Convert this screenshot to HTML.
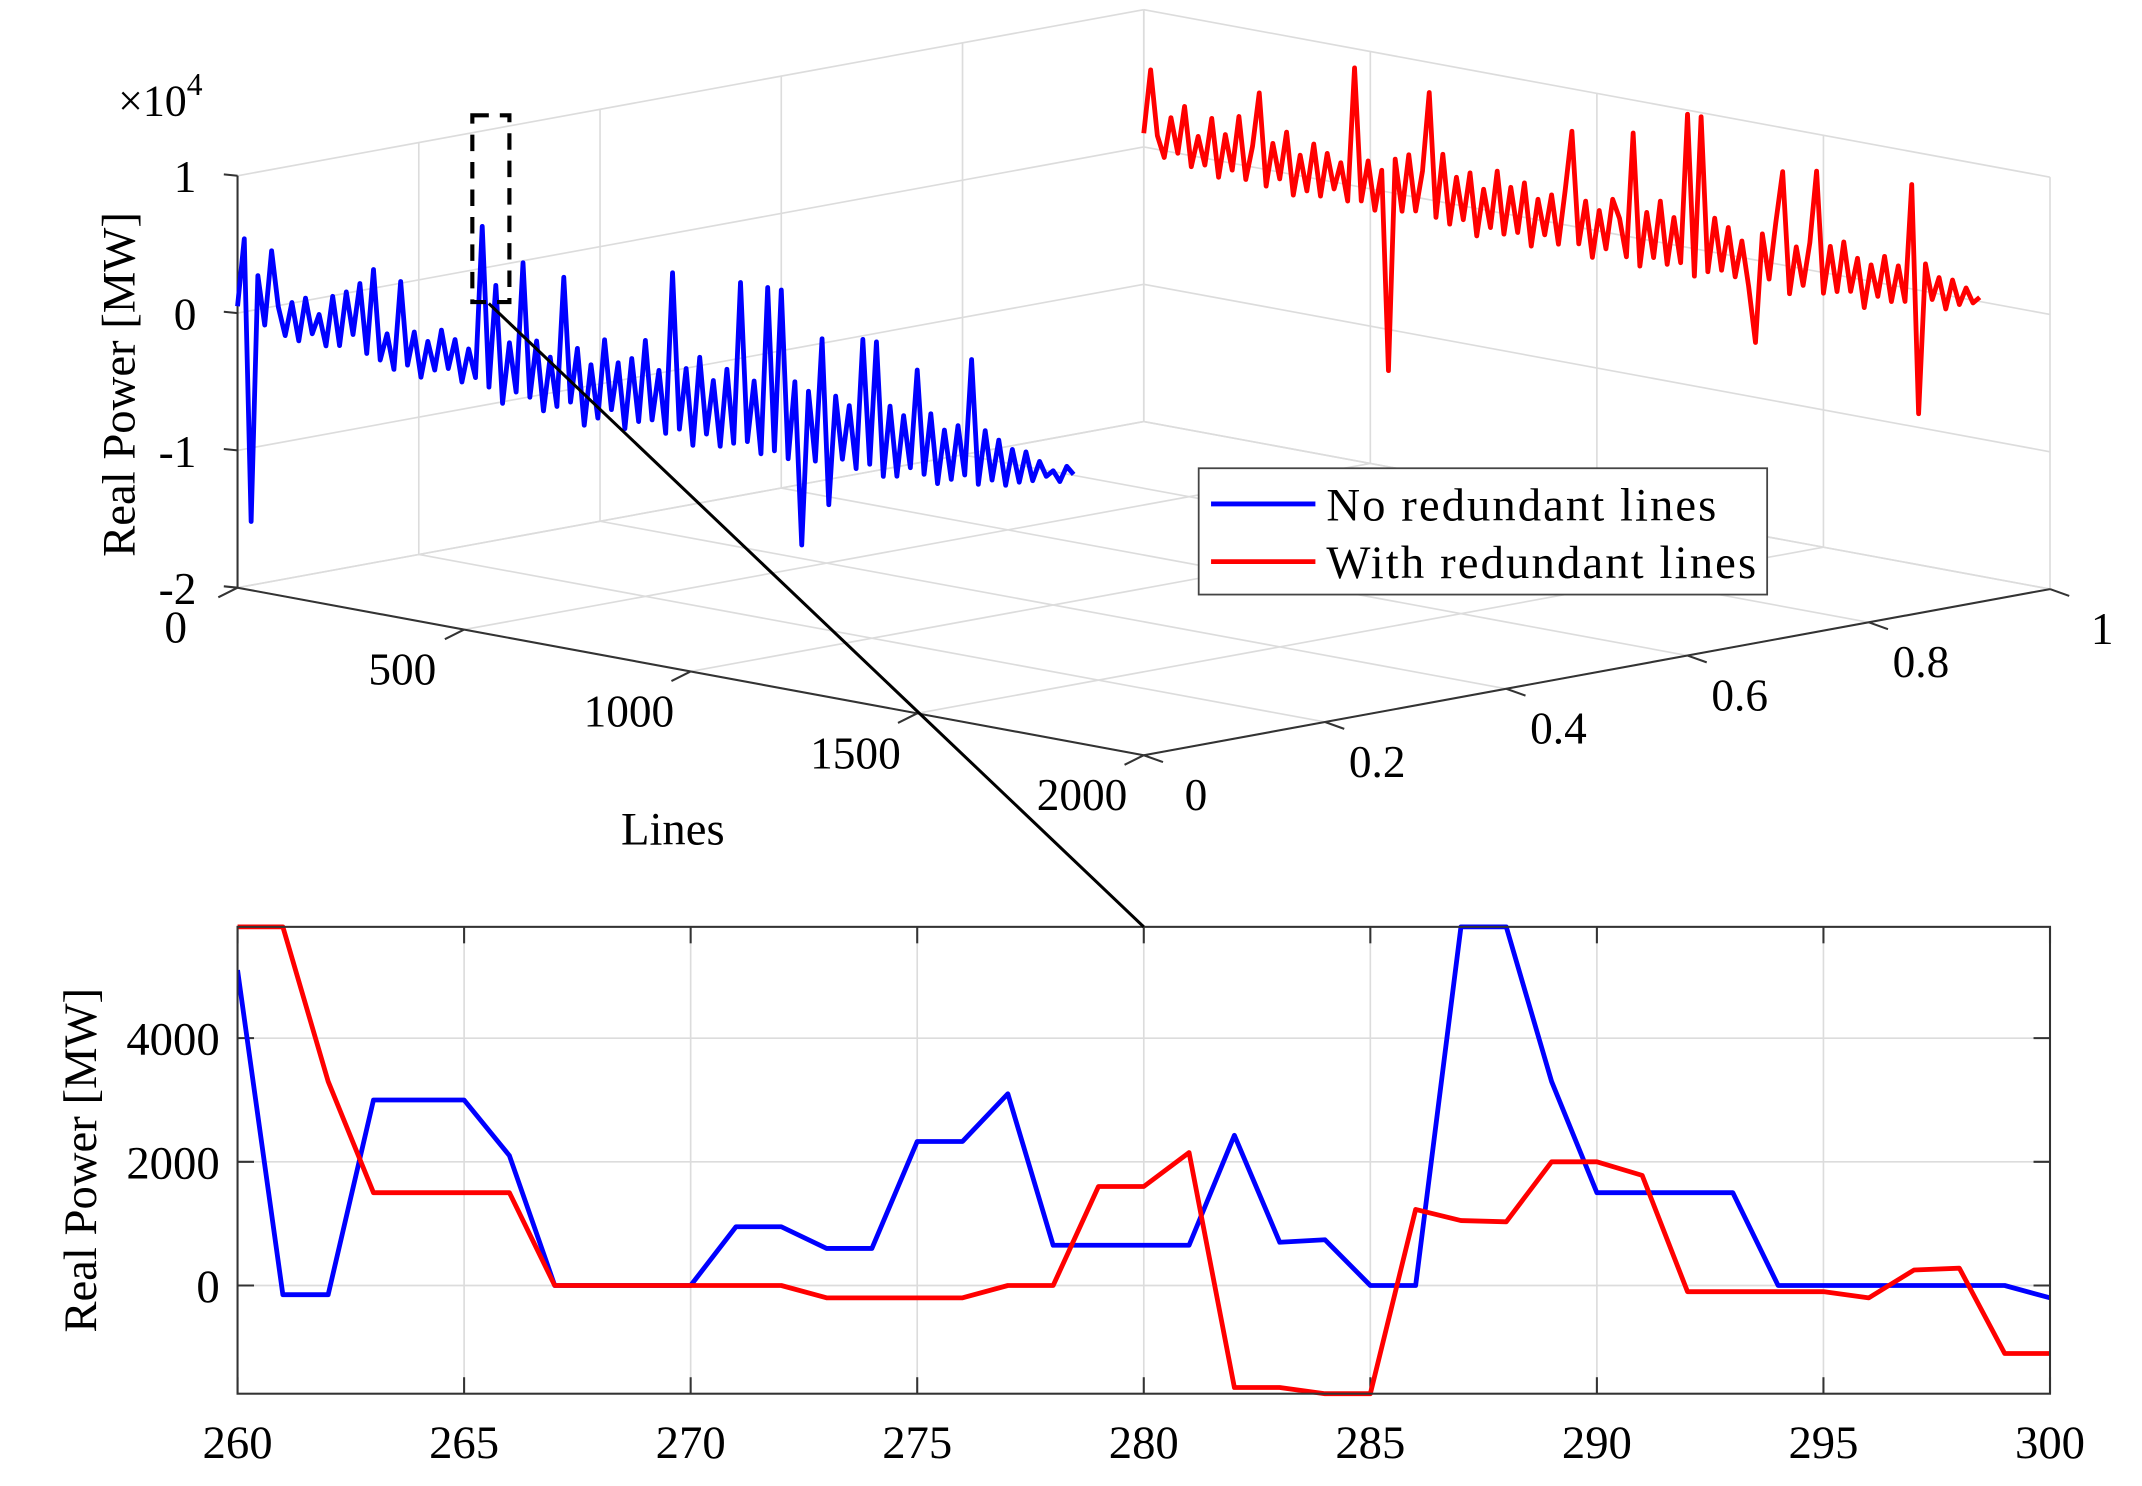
<!DOCTYPE html>
<html><head><meta charset="utf-8"><style>
html,body{margin:0;padding:0;background:#fff;}
svg{display:block;font-family:"Liberation Serif",serif;}
</style></head><body>
<svg id="chart" width="2142" height="1486" viewBox="0 0 1560 1082.2" xmlns="http://www.w3.org/2000/svg">
<g id="top3d"></g>
<g id="bottom"></g>
</svg>
<script>
// ---- 3D top plot data (values in units of 1e4 MW, one per 15 lines)
const lineStep = 15;
const blueTop = [0.05,0.55,-1.5,0.3,-0.05,0.5,0.1,-0.1,0.15,-0.12,
0.2,-0.05,0.1,-0.12,0.25,-0.1,0.3,0.0,0.38,-0.12,
0.5,-0.15,0.05,-0.2,0.45,-0.15,0.1,-0.22,0.05,-0.15,
0.15,-0.12,0.1,-0.2,0.05,-0.15,0.96,-0.2,0.55,-0.3,
0.15,-0.2,0.75,-0.22,0.2,-0.3,0.1,-0.25,0.7,-0.2,
0.2,-0.35,0.1,-0.28,0.3,-0.2,0.15,-0.32,0.2,-0.25,
0.35,-0.22,0.15,-0.3,0.88,-0.25,0.2,-0.35,0.3,-0.25,
0.15,-0.32,0.25,-0.28,0.9,-0.25,0.2,-0.32,0.9,-0.28,
0.9,-0.32,0.25,-0.93,0.2,-0.3,0.6,-0.6,0.2,-0.25,
0.15,-0.3,0.65,-0.25,0.65,-0.32,0.2,-0.3,0.15,-0.22,
0.5,-0.25,0.2,-0.3,0.1,-0.25,0.15,-0.2,0.65,-0.25,
0.15,-0.2,0.1,-0.22,0.05,-0.18,0.05,-0.15,0.0,-0.1,
-0.05,-0.12,0.0,-0.05];
const redTop = [0.1,0.57,0.1,-0.05,0.25,0.0,0.35,-0.08,0.15,-0.05,
0.3,-0.12,0.2,-0.05,0.35,-0.1,0.15,0.55,-0.12,0.2,
-0.05,0.3,-0.15,0.15,-0.1,0.25,-0.12,0.2,-0.05,0.15,
-0.12,0.86,-0.1,0.2,-0.15,0.15,-1.3,0.25,-0.12,0.3,
-0.1,0.2,0.78,-0.12,0.35,-0.15,0.2,-0.1,0.25,-0.2,
0.15,-0.12,0.3,-0.15,0.2,-0.12,0.25,-0.2,0.15,-0.1,
0.2,-0.15,0.25,0.69,-0.12,0.2,-0.2,0.15,-0.12,0.25,
0.12,-0.15,0.76,-0.2,0.2,-0.12,0.3,-0.15,0.2,-0.12,
0.97,-0.2,0.97,-0.15,0.25,-0.12,0.2,-0.15,0.12,-0.2,
-0.6,0.2,-0.12,0.3,0.68,-0.2,0.15,-0.12,0.2,0.73,
-0.15,0.2,-0.12,0.25,-0.1,0.15,-0.2,0.12,-0.1,0.2,
-0.12,0.15,-0.1,0.76,-0.9,0.2,-0.05,0.12,-0.1,0.12,
-0.05,0.08,-0.02,0.03];
const lineTicks = [0,500,1000,1500,2000];
const sTicks = [0,0.2,0.4,0.6,0.8,1];
const sTickLabels = ["0","0.2","0.4","0.6","0.8","1"];
const zTicks = [-2,-1,0,1];

// ---- bottom zoom plot data
const xZoom = [260,261,262,263,264,265,266,267,268,269,270,271,272,273,274,275,276,277,278,279,280,281,282,283,284,285,286,287,288,289,290,291,292,293,294,295,296,297,298,299,300];
const blueZoom = [5100,-150,-150,3000,3000,3000,2100,0,0,0,0,950,950,600,600,2330,2330,3100,650,650,650,650,2430,700,740,0,0,5800,5800,3300,1500,1500,1500,1500,0,0,0,0,0,0,-200];
const redZoom = [5800,5800,3300,1500,1500,1500,1500,0,0,0,0,0,0,-200,-200,-200,-200,0,0,1600,1600,2150,-1650,-1650,-1750,-1750,1230,1050,1030,2000,2000,1780,-100,-100,-100,-100,-200,250,280,-1100,-1100];
const xZoomTicks = [260,265,270,275,280,285,290,295,300];
const yZoomTicks = [0,2000,4000];

const NS="http://www.w3.org/2000/svg";
function mk(parent,tag,attrs,text){const e=document.createElementNS(NS,tag);for(const k in attrs)e.setAttribute(k,attrs[k]);if(text!==undefined)e.textContent=text;parent.appendChild(e);return e;}

function P(l,s,z){return [173+660*(l/2000)+660*s, 428+122*(l/2000)-121*s-100*(z+2)];}
const g=document.getElementById('top3d');
const grid='#dcdcdc';
function seg(a,b,st,w,name){const e=mk(g,'line',{x1:a[0],y1:a[1],x2:b[0],y2:b[1],stroke:st,'stroke-width':w});return e;}
zTicks.forEach(z=>{seg(P(0,0,z),P(0,1,z),grid,1.2,'grid-z');seg(P(0,1,z),P(2000,1,z),grid,1.2,'grid-z');});
sTicks.forEach(s=>{seg(P(0,s,-2),P(0,s,1),grid,1.2,'grid-s');seg(P(0,s,-2),P(2000,s,-2),grid,1.2,'grid-floor-s');});
lineTicks.forEach(l=>{seg(P(l,1,-2),P(l,1,1),grid,1.2,'grid-l');seg(P(l,0,-2),P(l,1,-2),grid,1.2,'grid-floor-l');});
seg(P(0,0,-2),P(0,0,1),'#333',1.5,'z-axis');
seg(P(0,0,-2),P(2000,0,-2),'#333',1.5,'lines-axis');
seg(P(2000,0,-2),P(2000,1,-2),'#333',1.5,'s-axis');
zTicks.forEach(z=>{const p=P(0,0,z);seg(p,[p[0]-10,p[1]-1],'#333',1.5,'z-tick');
 const t=mk(g,'text',{x:p[0]-30,y:p[1]+12,'font-size':33,'text-anchor':'end'},String(z));});
lineTicks.forEach((l,i)=>{const p=P(l,0,-2);seg(p,[p[0]-14,p[1]+7],'#333',1.5,'lines-tick');
 const t=mk(g,'text',{x:p[0]-45,y:p[1]+40,'font-size':33,'text-anchor':'middle'},String(l));});
sTicks.forEach((s,i)=>{const p=P(2000,s,-2);seg(p,[p[0]+14,p[1]+5],'#333',1.5,'s-tick');
 const t=mk(g,'text',{x:p[0]+38,y:p[1]+40,'font-size':33,'text-anchor':'middle'},sTickLabels[i]);});
function series3d(vals,s,color,name){let d='';vals.forEach((v,i)=>{const p=P(i*lineStep,s,v);d+=(i?'L':'M')+p[0].toFixed(1)+','+p[1].toFixed(1);});
 const e=mk(g,'path',{d:d,fill:'none',stroke:color,'stroke-width':3.5,'stroke-linejoin':'round'});}
series3d(blueTop,0,'#0000ff','blue-series-3d');
series3d(redTop,1,'#ff0000','red-series-3d');

const svg=document.getElementById('chart');
function T(x,y,size,txt,name,extra){const e=mk(svg,'text',Object.assign({x:x,y:y,'font-size':size},extra||{}),txt);return e;}
const ex=T(86,84,32,'×10','z-exponent');mk(ex,'tspan',{dy:-15,'font-size':23},'4');
T(98,280,34,'Real Power [MW]','y-axis-title-top',{transform:'rotate(-90 98 280)','text-anchor':'middle'});
T(490,615,34,'Lines','x-axis-title',{'text-anchor':'middle'});
const db=mk(svg,'rect',{x:344,y:84,width:27,height:136,fill:'none',stroke:'#000','stroke-width':3,'stroke-dasharray':'12,8'});

const cl=mk(svg,'line',{x1:356,y1:221,x2:833,y2:675,stroke:'#000','stroke-width':2.2});

const lg=mk(svg,'g',{});
const lb=mk(lg,'rect',{x:873,y:341,width:414,height:92,fill:'#fff',stroke:'#444','stroke-width':1.3});
const l1=mk(lg,'line',{x1:882,y1:367,x2:958,y2:367,stroke:'#0000ff','stroke-width':3.5});
const l2=mk(lg,'line',{x1:882,y1:409,x2:958,y2:409,stroke:'#ff0000','stroke-width':3.5});
const t1=mk(lg,'text',{x:966,y:379,'font-size':34,textLength:284},'No redundant lines');
const t2=mk(lg,'text',{x:966,y:421,'font-size':34,textLength:313},'With redundant lines');

const b=document.getElementById('bottom');
const L=173,R=1493,TOP=675,BOT=1015,YMIN=-1750,YMAX=5800;
const xs=x=>L+(x-260)/(300-260)*(R-L);
const ys=y=>BOT-(y-YMIN)/(YMAX-YMIN)*(BOT-TOP);
const defs=mk(b,'defs',{});const cp=mk(defs,'clipPath',{id:'clipB'});mk(cp,'rect',{x:L,y:TOP-2,width:R-L,height:BOT-TOP+4});
xZoomTicks.forEach(x=>{const e=mk(b,'line',{x1:xs(x),y1:TOP,x2:xs(x),y2:BOT,stroke:grid,'stroke-width':1.2});
 const k=mk(b,'line',{x1:xs(x),y1:BOT,x2:xs(x),y2:BOT-12,stroke:'#333','stroke-width':1.5});
 const k2=mk(b,'line',{x1:xs(x),y1:TOP,x2:xs(x),y2:TOP+12,stroke:'#333','stroke-width':1.5});
 const t=mk(b,'text',{x:xs(x),y:1062,'font-size':34,'text-anchor':'middle'},String(x));});
yZoomTicks.forEach(y=>{const e=mk(b,'line',{x1:L,y1:ys(y),x2:R,y2:ys(y),stroke:grid,'stroke-width':1.2});
 const k=mk(b,'line',{x1:L,y1:ys(y),x2:L+12,y2:ys(y),stroke:'#333','stroke-width':1.5});
 const k2=mk(b,'line',{x1:R,y1:ys(y),x2:R-12,y2:ys(y),stroke:'#333','stroke-width':1.5});
 const t=mk(b,'text',{x:160,y:ys(y)+12,'font-size':34,'text-anchor':'end'},String(y));});
function series(vals,color,name){let d='';vals.forEach((v,i)=>{d+=(i?'L':'M')+xs(xZoom[i]).toFixed(1)+','+ys(v).toFixed(1);});
 const e=mk(b,'path',{d:d,fill:'none',stroke:color,'stroke-width':3.5,'stroke-linejoin':'round','clip-path':'url(#clipB)'});}
series(blueZoom,'#0000ff','blue-series-zoom');
series(redZoom,'#ff0000','red-series-zoom');
const box=mk(b,'rect',{x:L,y:TOP,width:R-L,height:BOT-TOP,fill:'none',stroke:'#333','stroke-width':1.5});
const yl=mk(b,'text',{x:70,y:845,'font-size':34,'text-anchor':'middle',transform:'rotate(-90 70 845)'},'Real Power [MW]');
</script>
</body></html>
